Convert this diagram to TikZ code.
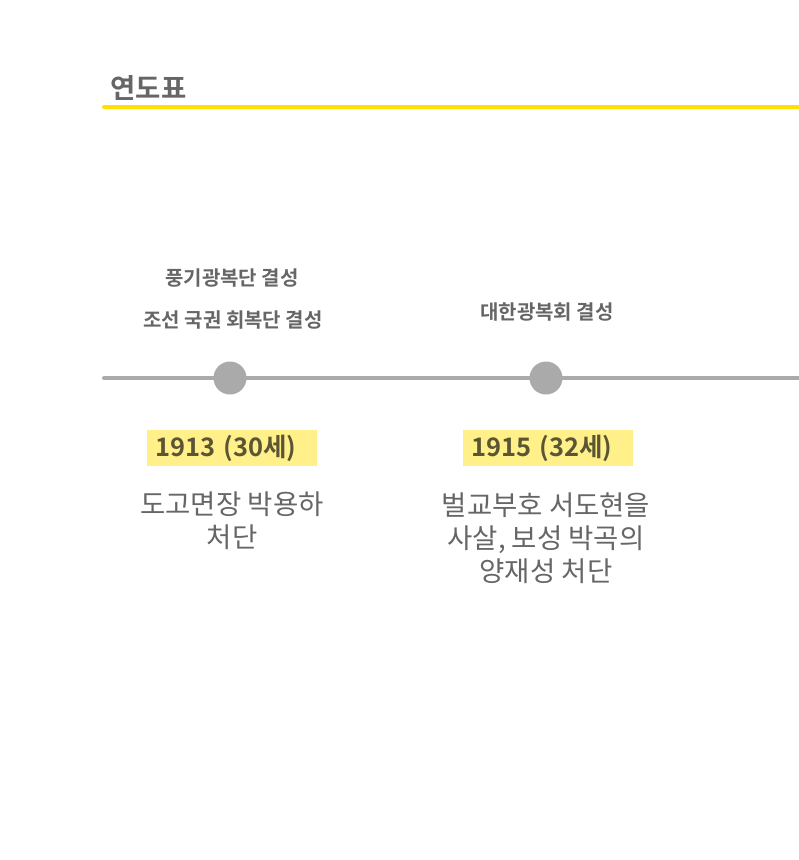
\documentclass[tikz,border=0pt]{standalone}
\usepackage{fontspec}
\setmainfont{Noto Sans CJK KR}[BoldFont={Noto Sans CJK KR Bold}]
\definecolor{lineY}{RGB}{255,224,0}
\definecolor{lineG}{RGB}{170,170,170}
\definecolor{textG}{RGB}{102,102,102}
\definecolor{markY}{RGB}{255,240,138}
\definecolor{yearT}{RGB}{92,85,52}

\begin{document}
\begin{tikzpicture}[x=1pt,y=-1pt,
  event/.style={font=\bfseries\fontsize{20}{22}\selectfont,text=textG},
  yearbox/.style={fill=markY,text width=154pt,align=left,inner xsep=8pt,inner ysep=0pt,minimum height=36pt,font=\bfseries\fontsize{25.5}{27}\selectfont,text=yearT},
  desc/.style={font=\fontsize{27.5}{33}\selectfont,text=textG,align=center},
  dot/.style={circle,fill=lineG,minimum size=33pt,inner sep=0pt}]
\useasboundingbox (0,0) rectangle (799,860);
% heading
\node[anchor=west,font=\bfseries\fontsize{27.5}{30}\selectfont,text=textG] (title) at (107,88) {연도표};
\coordinate (hlS) at (104,107); \coordinate (hlE) at (799,107);
\draw[lineY,line width=4pt,line cap=round] (hlS)--(hlE);
% timeline
\coordinate (tlS) at (104,378); \coordinate (tlE) at (799,378);
\draw[lineG,line width=4pt,line cap=round] (tlS)--(tlE);
\node[dot] (dotA) at (230,378) {};
\node[dot] (dotB) at (546,378) {};
% 1913
\node[event] (evA1) at (232,278) {풍기광복단 결성};
\node[event] (evA2) at (233,320) {조선 국권 회복단 결성};
\node[yearbox] (yearA) at (232,448) {1913 (30세)};
\node[desc] (descA) at (232,521) {도고면장 박용하\\처단};
% 1915
\node[event] (evB) at (547,312) {대한광복회 결성};
\node[yearbox] (yearB) at (548,448) {1915 (32세)};
\node[desc] (descB) at (546,538) {벌교부호 서도현을\\사살, 보성 박곡의\\양재성 처단};
\end{tikzpicture}
\end{document}
